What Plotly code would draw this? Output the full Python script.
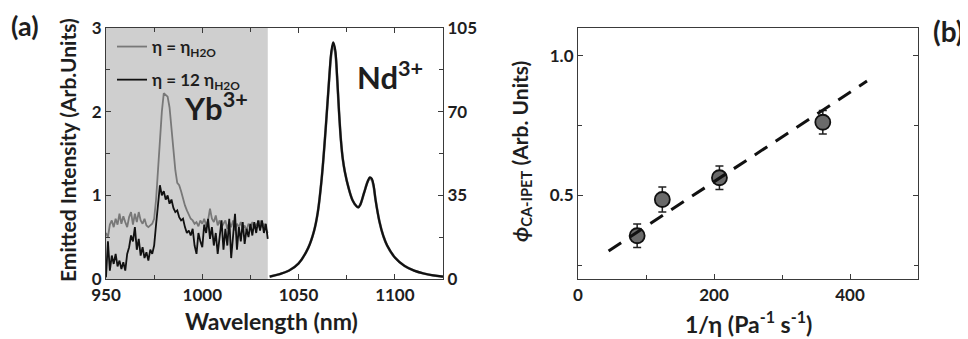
import plotly.graph_objects as go

# ---------------- data ----------------
yb_wavelength = list(range(950, 1035))
yb_water = [0.55, 0.50, 0.65, 0.70, 0.62, 0.72, 0.65, 0.78, 0.66, 0.75,
            0.68, 0.62, 0.74, 0.80, 0.65, 0.78, 0.68, 0.80, 0.70, 0.66,
            0.72, 0.64, 0.62, 0.64, 0.66, 0.72, 0.95, 1.30, 1.70, 2.00,
            2.22, 2.20, 2.18, 2.05, 1.80, 1.55, 1.30, 1.15, 1.12, 1.05,
            0.95, 0.88, 0.82, 0.76, 0.72, 0.70, 0.66, 0.68, 0.63, 0.70,
            0.66, 0.72, 0.64, 0.70, 0.84, 0.72, 0.68, 0.76, 0.64, 0.70,
            0.62, 0.66, 0.70, 0.60, 0.68, 0.62, 0.70, 0.58, 0.66, 0.62,
            0.68, 0.60, 0.64, 0.58, 0.66, 0.62, 0.68, 0.60, 0.66, 0.62,
            0.70, 0.62, 0.66, 0.60, 0.55]
yb_viscous = [0.02, 0.45, 0.10, 0.28, 0.18, 0.30, 0.15, 0.22, 0.12, 0.20,
              0.10, 0.30, 0.38, 0.52, 0.45, 0.62, 0.35, 0.48, 0.28, 0.38,
              0.25, 0.32, 0.22, 0.35, 0.30, 0.40, 0.65, 0.90, 1.12, 1.00,
              1.05, 0.95, 1.00, 0.90, 0.95, 0.85, 0.80, 0.82, 0.74, 0.70,
              0.72, 0.62, 0.55, 0.58, 0.52, 0.60, 0.40, 0.30, 0.55, 0.45,
              0.38, 0.65, 0.55, 0.72, 0.48, 0.62, 0.40, 0.55, 0.30, 0.50,
              0.70, 0.35, 0.60, 0.40, 0.72, 0.25, 0.58, 0.78, 0.35, 0.62,
              0.45, 0.68, 0.42, 0.60, 0.50, 0.66, 0.52, 0.68, 0.55, 0.70,
              0.58, 0.70, 0.55, 0.66, 0.48]

nd_wavelength = [1035, 1040, 1045, 1050, 1055, 1058, 1060, 1062, 1064, 1066,
                 1067, 1068, 1069, 1070, 1071, 1072, 1073, 1074, 1076, 1078,
                 1080, 1081, 1082, 1084, 1086, 1087, 1088, 1089, 1090, 1092,
                 1094, 1096, 1100, 1105, 1110, 1115, 1120, 1125]
nd_water = [1.0, 2.0, 3.5, 6.5, 13, 20, 28, 42, 62, 85,
            94, 98, 95, 84, 70, 58, 50, 45, 38, 33,
            30.5, 30, 31, 36, 41, 42, 41.5, 38.5, 33, 24,
            18, 14, 9, 5.5, 3.5, 2.3, 1.5, 1.0]
nd_viscous = [1.0, 2.0, 3.5, 6.5, 13, 20, 28, 42, 62, 85,
              95, 99, 96, 85, 70, 58, 50, 45, 38, 33,
              30.5, 30, 31, 36, 41, 42.5, 42, 39, 33, 24,
              18, 14, 9, 5.5, 3.5, 2.3, 1.5, 1.0]

inv_eta = [87, 124, 208, 360]
phi = [0.355, 0.485, 0.563, 0.762]
phi_err = [0.042, 0.045, 0.042, 0.042]
fit_x = [45, 425]
fit_y = [0.30, 0.91]

# ---------------- style ----------------
W, H = 968, 339
OFF = 8  # page body margin
FONT = "Lato"
TXT = "#1e1e1e"
AX = "#3a3a3a"

def px_x(p):
    return (p - OFF) / W

def px_y(p):
    return 1 - (p - OFF) / H

fig = go.Figure()

fig.add_trace(go.Scatter(x=yb_wavelength, y=yb_water, mode="lines",
                         line=dict(color="#787878", width=1.8),
                         name="η = η<sub>H2O</sub>", legendgroup="a",
                         xaxis="x", yaxis="y"))
fig.add_trace(go.Scatter(x=yb_wavelength, y=yb_viscous, mode="lines",
                         line=dict(color="#111111", width=1.8),
                         name="η = 12 η<sub>H2O</sub>", legendgroup="b",
                         xaxis="x", yaxis="y"))
fig.add_trace(go.Scatter(x=nd_wavelength, y=nd_water, mode="lines",
                         line=dict(color="#8a8a8a", width=2.6, shape="spline"),
                         showlegend=False, xaxis="x", yaxis="y2"))
fig.add_trace(go.Scatter(x=nd_wavelength, y=nd_viscous, mode="lines",
                         line=dict(color="#111111", width=2.2, shape="spline"),
                         showlegend=False, xaxis="x", yaxis="y2"))

fig.add_trace(go.Scatter(x=inv_eta, y=phi, mode="markers",
                         marker=dict(size=15, color="#6a6a6a",
                                     line=dict(color="#111111", width=1.8)),
                         error_y=dict(type="data", array=phi_err, color="#222222",
                                      thickness=1.5, width=4),
                         showlegend=False, xaxis="x2", yaxis="y3"))
fig.add_trace(go.Scatter(x=fit_x, y=fit_y, mode="lines",
                         line=dict(color="#111111", width=3, dash="15px,10px"),
                         showlegend=False, xaxis="x2", yaxis="y3"))

tickfont = dict(family=FONT, size=17, color=TXT, weight="bold")

common = dict(showline=True, linecolor=AX, linewidth=1.2, ticks="inside",
              tickcolor=AX, ticklen=5, tickwidth=1, showgrid=False,
              zeroline=False, tickfont=tickfont, automargin=False)

dom_a = [px_x(106), px_x(443)]
dom_b = [px_x(578), px_x(918)]
dom_y = [px_y(279), px_y(28)]

fig.update_layout(
    width=W, height=H, autosize=False,
    margin=dict(l=0, r=0, t=0, b=0, pad=0),
    paper_bgcolor="white", plot_bgcolor="white",
    font=dict(family=FONT, color=TXT),
    xaxis=dict(domain=dom_a, range=[950, 1125], dtick=50, tick0=950,
               mirror="ticks", anchor="y",
               minor=dict(dtick=25, ticks="inside", ticklen=4, tickcolor=AX),
               **common),
    yaxis=dict(domain=dom_y, range=[0, 3], dtick=1, anchor="x",
               minor=dict(dtick=0.5, ticks="inside", ticklen=4, tickcolor=AX),
               **common),
    yaxis2=dict(overlaying="y", side="right", range=[0, 105], dtick=35,
                anchor="x",
                minor=dict(dtick=17.5, ticks="inside", ticklen=4, tickcolor=AX),
                **common),
    xaxis2=dict(domain=dom_b, range=[0, 500], dtick=200, anchor="y3",
                mirror=True,
                minor=dict(dtick=100, ticks="inside", ticklen=4, tickcolor=AX),
                **common),
    yaxis3=dict(domain=dom_y, range=[0.2, 1.1], dtick=0.5, tick0=0, anchor="x2",
                mirror="ticks", tickformat=".1f",
                minor=dict(dtick=0.25, ticks="inside", ticklen=4, tickcolor=AX),
                **common),
    legend=dict(x=px_x(112), y=px_y(29), xanchor="left", yanchor="top",
                bgcolor="rgba(0,0,0,0)", itemwidth=30, traceorder="grouped",
                tracegroupgap=8,
                font=dict(family=FONT, size=17, color=TXT, weight="bold")),
    showlegend=True,
)

fig.add_shape(type="rect", xref="x", yref="y", x0=950, x1=1034, y0=0, y1=3,
              fillcolor="#cfcfcf", line=dict(width=0), layer="below")

def ann(text, x, y, size, angle=0, xanchor="center"):
    fig.add_annotation(text=text, x=px_x(x), y=px_y(y), xref="paper", yref="paper",
                       showarrow=False, textangle=angle, xanchor=xanchor,
                       yanchor="middle",
                       font=dict(family=FONT, size=size, color=TXT, weight="bold"))

ann("(a)", 9, 25, 27, xanchor="left")
ann("(b)", 948, 31, 28)
ann("Emitted Intensity (Arb.Units)", 67, 150, 21, angle=-90)
ann("Wavelength (nm)", 271, 321, 23)
ann("Yb<sup>3+</sup>", 216, 106, 31)
ann("Nd<sup>3+</sup>", 390, 75, 31)
ann("<i>ϕ</i><sub>CA-IPET</sub> (Arb. Units)", 521, 152, 21, angle=-90)
ann("1/η (Pa<sup>-1</sup> s<sup>-1</sup>)", 748, 322, 23)

fig.write_html("out.html")
